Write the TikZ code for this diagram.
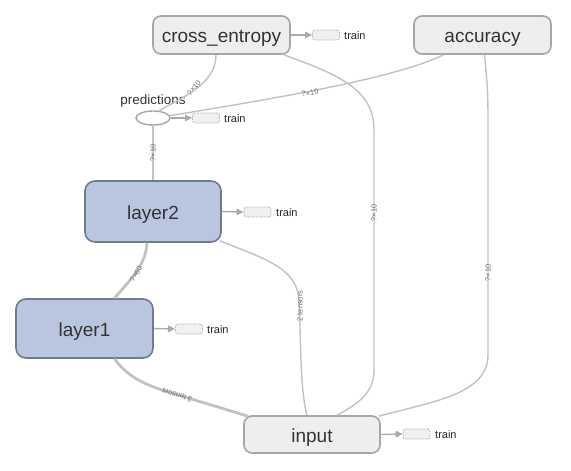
\documentclass[tikz,border=0pt]{standalone}
\usepackage{fontspec}
\setmainfont{Liberation Sans}
\usetikzlibrary{arrows.meta,shapes.geometric}
\definecolor{edgec}{HTML}{C2C2C2}
\definecolor{nodefill}{HTML}{EEEEEE}
\definecolor{nodeborder}{HTML}{A6A6A6}
\definecolor{layerfill}{HTML}{BAC5E0}
\definecolor{layerborder}{HTML}{6F7B8E}
\definecolor{textc}{HTML}{333333}
\definecolor{trainfill}{HTML}{F0F0F0}
\definecolor{trainborder}{HTML}{B0B0B0}
\definecolor{arrowc}{HTML}{ABABAB}
\definecolor{labelc}{HTML}{707070}
\begin{document}
\begin{tikzpicture}[x=1pt,y=-1pt,
  opnode/.style={draw=nodeborder, fill=nodefill, line width=1.6pt, rounded corners=8pt,
    minimum width=137pt, minimum height=38pt, inner sep=0pt, text height=15pt, text depth=0pt,
    font=\fontsize{19}{22}\selectfont, text=textc},
  layernode/.style={opnode, draw=layerborder, fill=layerfill, minimum height=60pt, rounded corners=10pt},
  ellnode/.style={ellipse, draw=nodeborder, fill=white, line width=1.4pt, minimum width=34pt, minimum height=14pt, inner sep=0pt},
  trainbox/.style={draw=trainborder, dash pattern=on 1.6pt off 1pt, fill=trainfill, rounded corners=2.5pt,
    minimum width=27pt, minimum height=10pt, inner sep=0pt, line width=0.7pt},
  traintext/.style={anchor=west, inner sep=0pt, font=\fontsize{11}{13}\selectfont, text=black!85},
  trainarrow/.style={draw=arrowc, line width=1.4pt, -{Triangle[length=7pt,width=6.5pt]}},
  edgeline/.style={draw=edgec, line width=1.4pt},
  thickedge/.style={draw=edgec, line width=2.8pt},
  elabel/.style={font=\fontsize{7.5}{8}\selectfont, text=labelc, inner sep=0.5pt}
]
\useasboundingbox (0,0) rectangle (571,471);

% nodes
\node[opnode] (ce) at (221.5,35) {cross\_entropy};
\node[opnode] (acc) at (482.5,35) {accuracy};
\node[ellnode] (pred) at (153,118) {};
\node[inner sep=0pt, font=\fontsize{13.5}{15}\selectfont, text=textc] (predlbl) at (153,101) {predictions};
\node[layernode, minimum width=136pt, minimum height=61pt] (l2) at (153,211.5) {layer2};
\node[layernode, minimum height=59pt] (l1) at (84.5,328.5) {layer1};
\node[opnode, minimum width=136pt, minimum height=37pt] (inp) at (312,434.5) {input};

% edges
\draw[edgeline] ([xshift=-5.5pt]ce.south) .. controls +(0,30) and +(22,-13) .. (pred.50);
\draw[edgeline] ([xshift=-39pt]acc.south) .. controls +(-43,21) and +(130,-21) .. (pred.8);
\draw[edgeline] (pred.south) -- (l2.north);
\draw[edgeline] ([xshift=62pt]ce.south) .. controls (340,75) and (374,90) .. (374,130)
   -- (374,370) .. controls (374,395) and (355,405) .. ([xshift=25pt]inp.north);
\draw[edgeline] ([xshift=2pt]acc.south) .. controls (487,80) and (488,90) .. (488,120)
   -- (488,355) .. controls (488,395) and (430,402) .. ([xshift=-2pt,yshift=-1pt]inp.north east);
\draw[edgeline] ([xshift=-2pt,yshift=2pt]l2.south east) .. controls +(45,18) and (297,268) .. (299,300)
   .. controls (301,340) and (300,390) .. ([xshift=-5pt]inp.north);
\draw[thickedge] ([xshift=-6pt]l2.south) .. controls +(-1,23) and +(15,-18) .. ([xshift=30pt]l1.north);
\draw[thickedge] ([xshift=30pt]l1.south) .. controls (130,380) and (150,387) .. (185,397)
   -- ([xshift=-64pt,yshift=-1pt]inp.north);

% edge labels
\node[elabel, rotate=50] (lb1) at (194,88) {?×10};
\node[elabel, rotate=8] (lb2) at (310,93) {?×10};
\node[elabel, rotate=90] (lb3) at (153,153) {?×10};
\node[elabel, rotate=90] (lb4) at (374,213) {?×10};
\node[elabel, rotate=90] (lb5) at (488,273) {?×10};
\node[elabel, rotate=90] (lb6) at (300,306) {2 tensors};
\node[elabel, rotate=60] (lb7) at (136,274) {?×60};
\node[elabel, rotate=163] (lb8) at (177,395) {3 tensors};

% train boxes
\node[trainbox] (ceT) at (326,35) {};
\node[traintext] (ceTt) at (344,36) {train};
\draw[trainarrow] (ce.east) -- (ceT.west);
\node[trainbox] (predT) at (206,118) {};
\node[traintext] (predTt) at (224,119) {train};
\draw[trainarrow] (pred.east) -- (predT.west);
\node[trainbox] (l2T) at (257.5,212) {};
\node[traintext] (l2Tt) at (276,213) {train};
\draw[trainarrow] (l2.east) -- (l2T.west);
\node[trainbox] (l1T) at (189,329) {};
\node[traintext] (l1Tt) at (207,330) {train};
\draw[trainarrow] (l1.east) -- (l1T.west);
\node[trainbox] (inpT) at (416.5,434) {};
\node[traintext] (inpTt) at (435,435) {train};
\draw[trainarrow] (inp.east) -- (inpT.west);
\end{tikzpicture}
\end{document}
